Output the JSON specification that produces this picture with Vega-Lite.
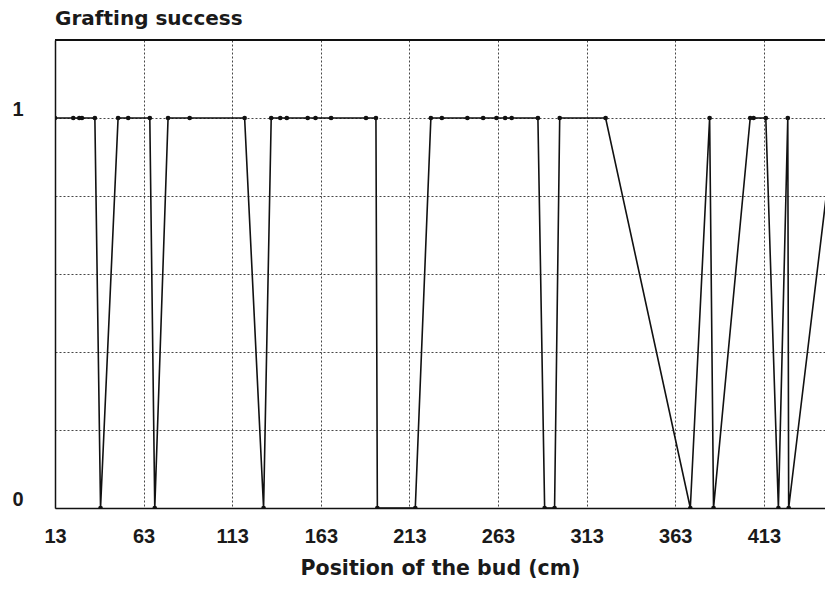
{
  "$schema": "https://vega.github.io/schema/vega-lite/v6.json",
  "width": 770,
  "height": 468,
  "autosize": {"type": "none"},
  "padding": {"left": 55, "top": 40, "right": 0, "bottom": 84},
  "background": "white",
  "title": {
    "text": "Grafting success",
    "anchor": "start",
    "frame": "group",
    "offset": 10,
    "fontSize": 20,
    "font": "DejaVu Sans",
    "fontWeight": "bold",
    "color": "#1a1a1a"
  },
  "config": {
    "view": {"stroke": null},
    "axis": {
      "labelFont": "Liberation Sans",
      "titleFont": "DejaVu Sans",
      "labelColor": "#1a1a1a",
      "titleColor": "#1a1a1a",
      "labelFontSize": 20,
      "labelFontWeight": "bold",
      "titleFontSize": 20.5,
      "titleFontWeight": "bold",
      "ticks": false,
      "domainColor": "#111",
      "domainWidth": 1.5,
      "gridColor": "#333",
      "gridDash": [2, 2],
      "gridWidth": 1,
      "gridOpacity": 0.9
    }
  },
  "data": {
    "values": [
      {"i": 1, "pos": 13.0, "success": 1},
      {"i": 2, "pos": 23.3, "success": 1},
      {"i": 3, "pos": 26.7, "success": 1},
      {"i": 4, "pos": 28.2, "success": 1},
      {"i": 5, "pos": 35.5, "success": 1},
      {"i": 6, "pos": 38.7, "success": 0},
      {"i": 7, "pos": 48.6, "success": 1},
      {"i": 8, "pos": 54.3, "success": 1},
      {"i": 9, "pos": 66.5, "success": 1},
      {"i": 10, "pos": 69.3, "success": 0},
      {"i": 11, "pos": 76.8, "success": 1},
      {"i": 12, "pos": 89.0, "success": 1},
      {"i": 13, "pos": 120.0, "success": 1},
      {"i": 14, "pos": 130.7, "success": 0},
      {"i": 15, "pos": 135.0, "success": 1},
      {"i": 16, "pos": 140.1, "success": 1},
      {"i": 17, "pos": 143.8, "success": 1},
      {"i": 18, "pos": 155.6, "success": 1},
      {"i": 19, "pos": 160.0, "success": 1},
      {"i": 20, "pos": 168.8, "success": 1},
      {"i": 21, "pos": 188.5, "success": 1},
      {"i": 22, "pos": 194.1, "success": 1},
      {"i": 23, "pos": 194.9, "success": 0},
      {"i": 24, "pos": 216.3, "success": 0},
      {"i": 25, "pos": 225.1, "success": 1},
      {"i": 26, "pos": 231.3, "success": 1},
      {"i": 27, "pos": 245.7, "success": 1},
      {"i": 28, "pos": 254.6, "success": 1},
      {"i": 29, "pos": 262.1, "success": 1},
      {"i": 30, "pos": 267.0, "success": 1},
      {"i": 31, "pos": 270.7, "success": 1},
      {"i": 32, "pos": 285.5, "success": 1},
      {"i": 33, "pos": 289.3, "success": 0},
      {"i": 34, "pos": 294.9, "success": 0},
      {"i": 35, "pos": 297.8, "success": 1},
      {"i": 36, "pos": 323.7, "success": 1},
      {"i": 37, "pos": 371.5, "success": 0},
      {"i": 38, "pos": 382.4, "success": 1},
      {"i": 39, "pos": 384.6, "success": 0},
      {"i": 40, "pos": 405.3, "success": 1},
      {"i": 41, "pos": 407.2, "success": 1},
      {"i": 42, "pos": 414.1, "success": 1},
      {"i": 43, "pos": 421.2, "success": 0},
      {"i": 44, "pos": 426.5, "success": 1},
      {"i": 45, "pos": 427.0, "success": 0},
      {"i": 46, "pos": 453.5, "success": 1}
    ]
  },
  "encoding": {
    "x": {
      "field": "pos",
      "type": "quantitative",
      "scale": {"domain": [13, 447.5], "nice": false, "zero": false},
      "axis": {
        "title": "Position of the bud (cm)",
        "values": [13, 63, 113, 163, 213, 263, 313, 363, 413],
        "labelPadding": 18,
        "titlePadding": 12,
        "labelFlush": false,
        "grid": true
      }
    },
    "y": {
      "field": "success",
      "type": "quantitative",
      "scale": {"domain": [0, 1.2], "nice": false},
      "axis": {
        "title": null,
        "values": [0, 0.2, 0.4, 0.6, 0.8, 1],
        "labelExpr": "datum.value == 0 ? '0' : datum.value == 1 ? '1' : ''",
        "labelPadding": 32,
        "labelBaseline": "alphabetic",
        "labelOffset": -3,
        "labelFlush": false,
        "labelOverlap": false,
        "grid": true
      }
    }
  },
  "layer": [
    {
      "mark": {"type": "rule", "color": "#111", "strokeWidth": 1.5},
      "encoding": {"y": {"datum": 1.2}, "x": {"value": 0}, "x2": {"value": 770}}
    },
    {
      "mark": {
        "type": "line",
        "clip": true,
        "color": "#111",
        "strokeWidth": 1.6,
        "point": {"filled": true, "size": 22, "color": "#111"}
      },
      "encoding": {"order": {"field": "i", "type": "quantitative"}}
    }
  ]
}
